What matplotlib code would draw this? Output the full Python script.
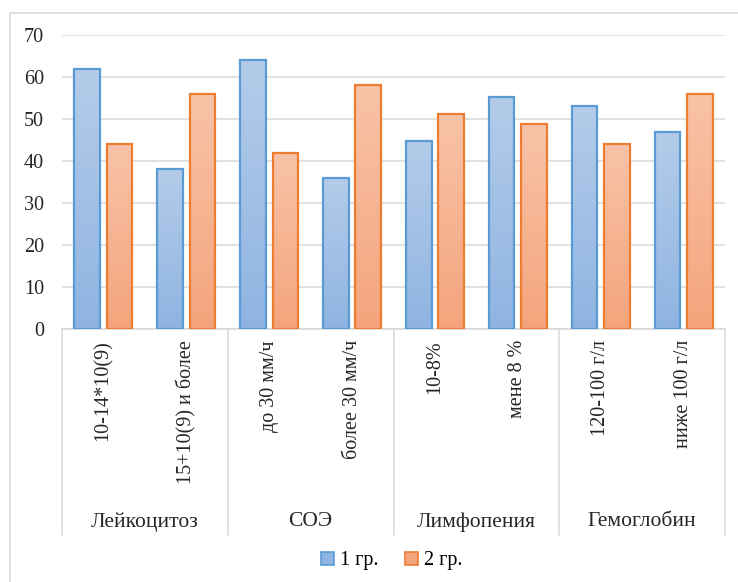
import numpy as np
import matplotlib.pyplot as plt
from matplotlib.patches import Patch, Rectangle
from matplotlib.colors import LinearSegmentedColormap

plt.rcParams['font.family'] = ['Liberation Serif', 'DejaVu Serif']

groups = ['Лейкоцитоз', 'СОЭ', 'Лимфопения', 'Гемоглобин']
subcats = ['10-14*10(9)', '15+10(9) и более',
           'до 30 мм/ч', 'более 30 мм/ч',
           '10-8%', 'мене 8 %',
           '120-100 г/л', 'ниже 100 г/л']
series_names = ['1 гр.', '2 гр.']
gr1 = [61.8, 38.2, 64.0, 36.0, 44.8, 55.2, 53.1, 46.9]
gr2 = [44.0, 56.0, 42.0, 58.0, 51.2, 48.8, 44.0, 56.0]
yticks = [0, 10, 20, 30, 40, 50, 60, 70]

W, H = 738, 582
FS = 14.5
TXT = '#262626'
fig = plt.figure(figsize=(W/100, H/100), dpi=100)
# рамка диаграммы (правый и нижний края уходят за обрез)
fig.patches.append(Rectangle((10/W, -0.1), 1.0, 1.1 - 13/H, transform=fig.transFigure,
                             fill=False, edgecolor='#d9d9d9', linewidth=1.2))

ax = fig.add_axes([62/W, 1 - 329/H, 663/W, 294/H])

styles = [
    {'edge': '#5b9bd5', 'top': '#b4cce9', 'bottom': '#8fb4e2'},
    {'edge': '#ed7d31', 'top': '#f8c3a8', 'bottom': '#f4a47c'},
]
width = 0.31
offsets = [-0.195, 0.195]
x = np.arange(len(subcats)) + 0.5
grad = np.linspace(1, 0, 256).reshape(-1, 1)
for vals, off, st in zip([gr1, gr2], offsets, styles):
    cmap = LinearSegmentedColormap.from_list('g', [st['bottom'], st['top']])
    bars = ax.bar(x + off, vals, width, facecolor='none', edgecolor=st['edge'],
                  linewidth=1.6, zorder=3)
    for b in bars:
        x0, y0 = b.get_x(), b.get_y()
        im = ax.imshow(grad, cmap=cmap, aspect='auto', vmin=0, vmax=1,
                       extent=(x0, x0 + b.get_width(), y0, y0 + b.get_height()), zorder=2)
        im.set_clip_path(b)

ax.set_xlim(0, 8)
ax.set_ylim(0, 70)
ax.set_yticks(yticks)
ax.set_yticklabels([str(t) for t in yticks], fontsize=FS, color=TXT)
ax.tick_params(axis='y', length=0, pad=13)
ax.set_xticks([])
ax.grid(axis='y', color='#d9d9d9', linewidth=1.1, zorder=0)
ax.set_axisbelow(True)
for s in ['left', 'right', 'top']:
    ax.spines[s].set_visible(False)
ax.spines['bottom'].set_color('#d9d9d9')
ax.spines['bottom'].set_linewidth(1.1)

# двухуровневая подпись оси X
trans = ax.get_xaxis_transform()
low = -(535 - 329) / 294
for b in [0, 2, 4, 6, 8]:
    ax.plot([b, b], [0, low], transform=trans, color='#d9d9d9', linewidth=1.1, clip_on=False)
for xi, lab in zip(x, subcats):
    ax.text(xi, -(340 - 329) / 294, lab, transform=trans, rotation=90, ha='center', va='top',
            fontsize=FS, color=TXT)
for i, g in enumerate(groups):
    ax.text(2 * i + 1, -(522 - 329) / 294, g, transform=trans, ha='center', va='center',
            fontsize=15.5, color=TXT)

handles = [Patch(facecolor=st['bottom'], edgecolor=st['edge'], linewidth=1.2) for st in styles]
fig.legend(handles, series_names, loc='center', bbox_to_anchor=(392/W, 1 - 561/H), ncol=2,
           frameon=False, fontsize=FS, handlelength=0.65, handleheight=0.65,
           handletextpad=0.3, columnspacing=1.3)

fig.savefig('out.png', dpi=100)
